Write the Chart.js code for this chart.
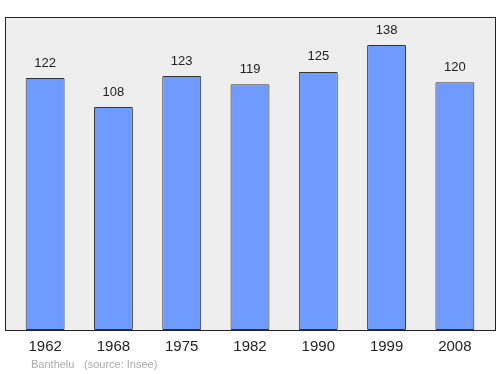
<!DOCTYPE html>
<html>
<head>
<meta charset="utf-8">
<script src="https://cdn.jsdelivr.net/npm/chart.js@4/dist/chart.umd.min.js"></script>
<style>
  html, body { margin: 0; padding: 0; background: #ffffff; }
  #wrap { width: 500px; height: 374px; }
</style>
</head>
<body>
<div id="wrap"><canvas id="chart" width="500" height="374"></canvas></div>
<script>
// population per census year
var years = ['1962', '1968', '1975', '1982', '1990', '1999', '2008'];
var population = [122, 108, 123, 119, 125, 138, 120];
var sourceText = ['Banthelu', '(source: Insee)'];

// grey box behind the bars, a little wider than the category area
var boxPlugin = {
	id: 'box',
	beforeDraw: function(chart) {
		var ctx = chart.ctx, a = chart.chartArea;
		ctx.save();
		ctx.fillStyle = '#eeeeee';
		ctx.fillRect(5, a.top, 490, a.bottom - a.top);
		ctx.restore();
	},
	afterDatasetsDraw: function(chart) {
		var ctx = chart.ctx, a = chart.chartArea;
		ctx.save();
		ctx.strokeStyle = '#222222';
		ctx.lineWidth = 1;
		ctx.strokeRect(5.5, a.top + 0.5, 490, a.bottom - a.top);
		ctx.restore();
	}
};

// value labels, year labels and source line
var labelPlugin = {
	id: 'labels',
	afterDraw: function(chart) {
		var ctx = chart.ctx,
			meta = chart.getDatasetMeta(0),
			xScale = chart.scales.x,
			a = chart.chartArea;
		ctx.save();
		ctx.textAlign = 'center';
		ctx.textBaseline = 'middle';
		ctx.fillStyle = '#222222';
		ctx.font = '13px "Liberation Sans", Arial, sans-serif';
		for (var n = 0; n < meta.data.length; n++) {
			var bar = meta.data[n];
			ctx.fillText(String(population[n]), bar.x, bar.y - 15);
		}
		ctx.font = '15px "Liberation Sans", Arial, sans-serif';
		for (var i = 0; i < years.length; i++) {
			ctx.fillText(years[i], xScale.getPixelForValue(i), a.bottom + 17);
		}
		ctx.textAlign = 'left';
		ctx.fillStyle = '#aaaaaa';
		ctx.font = '11px "Liberation Sans", Arial, sans-serif';
		ctx.fillText(sourceText[0], 31, 365);
		ctx.fillText(sourceText[1], 84, 365);
		ctx.restore();
	}
};

var ctx = document.getElementById('chart').getContext('2d');
var chart = new Chart(ctx, {
	type: 'bar',
	data: {
		labels: years,
		datasets: [{
			data: population,
			backgroundColor: '#6f9bff',
			borderColor: '#333333',
			borderWidth: 1,
			borderSkipped: false,
			borderRadius: 1,
			barPercentage: 0.57,
			categoryPercentage: 1
		}]
	},
	options: {
		responsive: false,
		animation: false,
		layout: {
			padding: { left: 11, right: 11, top: 17, bottom: 44 }
		},
		plugins: {
			legend: { display: false },
			tooltip: { enabled: false }
		},
		scales: {
			x: { display: false },
			y: { display: false, min: 0, max: 151.6 }
		}
	},
	plugins: [boxPlugin, labelPlugin]
});
</script>
</body>
</html>
